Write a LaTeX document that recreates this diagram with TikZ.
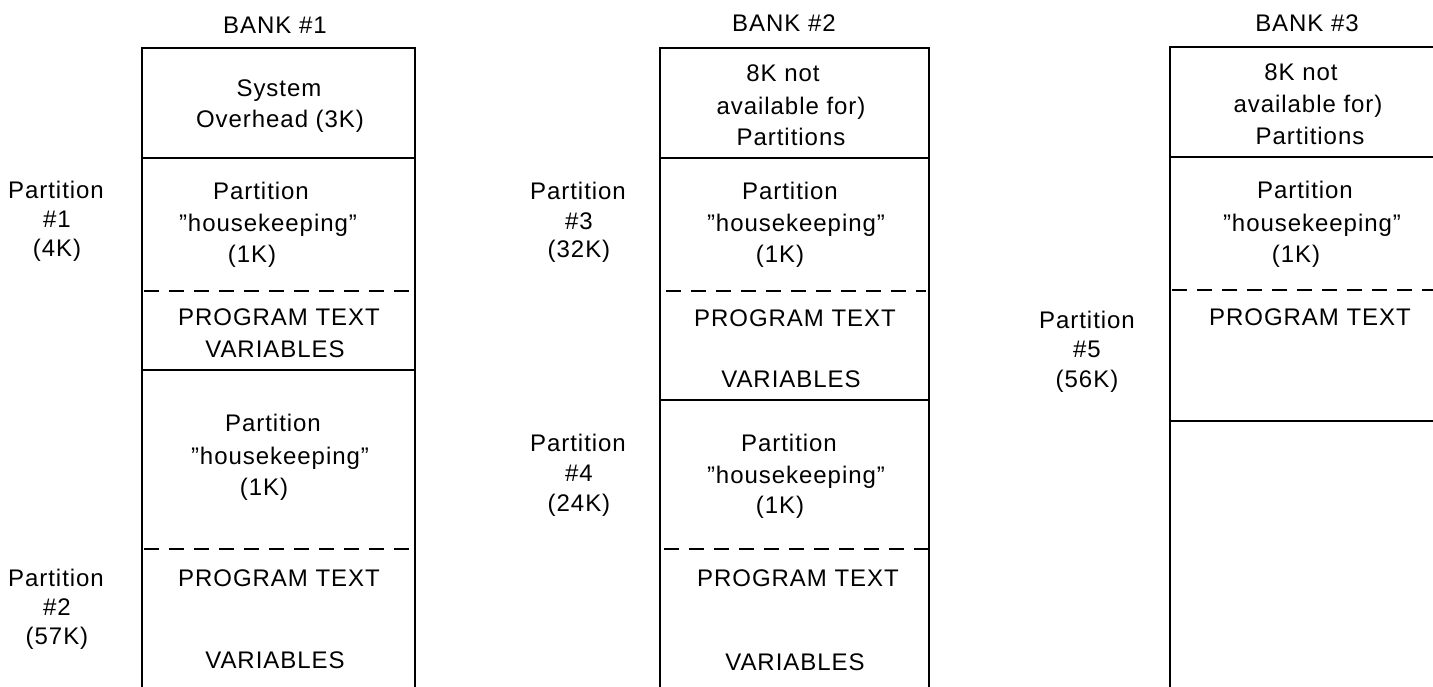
\documentclass[tikz,border=0pt]{standalone}
\usepackage{fontspec}
\setmainfont{Liberation Sans}[LetterSpace=4]
\begin{document}
\begin{tikzpicture}[x=1pt,y=-1pt,
  txt/.style={anchor=base,inner sep=0pt,font=\fontsize{24}{29}\selectfont},
  wall/.style={line width=1.5pt,line cap=rect},
  cut/.style={line width=1.5pt,dash pattern=on 15pt off 10pt}]
\useasboundingbox (0,0) rectangle (1433,687);
% ---------- Bank 1 ----------
\draw[wall] (142,687) -- (142,48) -- (415,48) -- (415,687);
\draw[wall] (142,158) -- (415,158);
\draw[wall] (142,370) -- (415,370);
\draw[cut] (144,291) -- (413,291);
\draw[cut] (144,549) -- (413,549);
\node[txt] (b1) at (275,34) {BANK \#1};
\node[txt] (b1s1) at (279,97) {System};
\node[txt] (b1s2) at (280,128) {Overhead (3K)};
\node[txt] (b1h1) at (261,200) {Partition};
\node[txt] (b1h2) at (268,232) {''housekeeping''};
\node[txt] (b1h3) at (252,263) {(1K)};
\node[txt] (b1p) at (279,325) {PROGRAM TEXT};
\node[txt] (b1v) at (275,357) {VARIABLES};
\node[txt] (b1k1) at (273,431) {Partition};
\node[txt] (b1k2) at (280,464) {''housekeeping''};
\node[txt] (b1k3) at (264,495) {(1K)};
\node[txt] (b1q) at (279,586) {PROGRAM TEXT};
\node[txt] (b1w) at (275,668) {VARIABLES};
\node[txt] (p1a) at (56,199) {Partition};
\node[txt] (p1b) at (57,228) {\#1};
\node[txt] (p1c) at (57,257) {(4K)};
\node[txt] (p2a) at (56,586) {Partition};
\node[txt] (p2b) at (57,615) {\#2};
\node[txt] (p2c) at (57,644) {(57K)};
% ---------- Bank 2 ----------
\draw[wall] (660,687) -- (660,48) -- (929,48) -- (929,687);
\draw[wall] (660,158) -- (929,158);
\draw[wall] (660,400) -- (929,400);
\draw[cut] (666,291) -- (926,291);
\draw[cut] (664,549) -- (929,549);
\node[txt] (b2) at (784,32) {BANK \#2};
\node[txt] (b2n1) at (783,82) {8K not};
\node[txt] (b2n2) at (791,115) {available for)};
\node[txt] (b2n3) at (791,146) {Partitions};
\node[txt] (b2h1) at (790,200) {Partition};
\node[txt] (b2h2) at (796,232) {''housekeeping''};
\node[txt] (b2h3) at (780,263) {(1K)};
\node[txt] (b2p) at (795,326) {PROGRAM TEXT};
\node[txt] (b2v) at (791,387) {VARIABLES};
\node[txt] (b2k1) at (789,451) {Partition};
\node[txt] (b2k2) at (796,483) {''housekeeping''};
\node[txt] (b2k3) at (780,513) {(1K)};
\node[txt] (b2q) at (798,586) {PROGRAM TEXT};
\node[txt] (b2w) at (795,670) {VARIABLES};
\node[txt] (p3a) at (578,200) {Partition};
\node[txt] (p3b) at (579,230) {\#3};
\node[txt] (p3c) at (579,258) {(32K)};
\node[txt] (p4a) at (578,451) {Partition};
\node[txt] (p4b) at (579,481) {\#4};
\node[txt] (p4c) at (579,511) {(24K)};
% ---------- Bank 3 ----------
\draw[wall] (1170,687) -- (1170,47) -- (1433,47);
\draw[wall] (1170,157) -- (1433,157);
\draw[wall] (1170,421) -- (1433,421);
\draw[cut] (1172,290) -- (1433,290);
\node[txt] (b3) at (1307,32) {BANK \#3};
\node[txt] (b3n1) at (1301,81) {8K not};
\node[txt] (b3n2) at (1308,113) {available for)};
\node[txt] (b3n3) at (1310,145) {Partitions};
\node[txt] (b3h1) at (1305,199) {Partition};
\node[txt] (b3h2) at (1312,232) {''housekeeping''};
\node[txt] (b3h3) at (1296,263) {(1K)};
\node[txt] (b3p) at (1310,325) {PROGRAM TEXT};
\node[txt] (p5a) at (1087,328) {Partition};
\node[txt] (p5b) at (1087,357) {\#5};
\node[txt] (p5c) at (1087,387) {(56K)};
\end{tikzpicture}
\end{document}
